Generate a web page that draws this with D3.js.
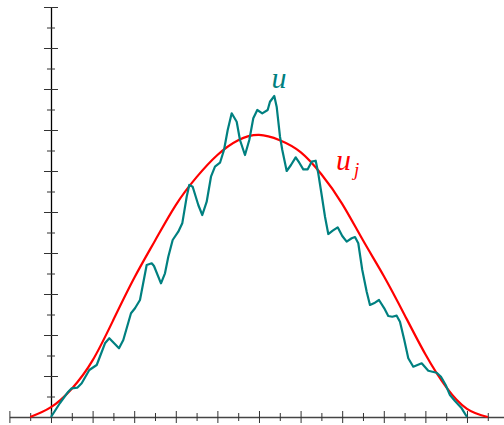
<!DOCTYPE html>
<html>
<head>
<meta charset="utf-8">
<script src="https://cdn.jsdelivr.net/npm/d3@7"></script>
<style>
	body { margin: 0; background: #fff; }
	svg { display: block; }
</style>
</head>
<body>
<script>
// noisy curve u
const uX = [0.000, 0.216, 0.416, 0.498, 0.632, 0.738, 0.921, 1.099, 1.298, 1.401,
	1.635, 1.738, 1.923, 2.019, 2.139, 2.300, 2.421, 2.476, 2.644, 2.740,
	2.820, 2.925, 3.060, 3.156, 3.262, 3.324, 3.406, 3.541, 3.637, 3.743,
	3.846, 3.942, 4.063, 4.159, 4.248, 4.344, 4.464, 4.543, 4.663, 4.767,
	4.863, 4.959, 5.079, 5.209, 5.264, 5.368, 5.425, 5.505, 5.560, 5.666,
	5.769, 5.882, 5.969, 6.065, 6.171, 6.267, 6.363, 6.425, 6.507, 6.587,
	6.666, 6.772, 6.892, 7.002, 7.108, 7.228, 7.308, 7.387, 7.483, 7.589,
	7.668, 7.788, 7.885, 8.012, 8.108, 8.204, 8.310, 8.389, 8.493, 8.589,
	8.709, 8.911, 9.070, 9.272, 9.375, 9.488, 9.591, 9.712, 9.873, 10.000];
const uY = [0.000, 0.341, 0.617, 0.700, 0.715, 0.822, 1.146, 1.268, 1.798, 1.920,
	1.676, 1.878, 2.529, 2.651, 2.854, 3.707, 3.749, 3.683, 3.261, 3.505,
	3.910, 4.317, 4.520, 4.724, 5.373, 5.659, 5.617, 5.171, 4.927, 5.251,
	5.861, 6.105, 6.202, 6.512, 7.000, 7.407, 7.202, 6.756, 6.390, 6.756,
	7.285, 7.488, 7.407, 7.488, 7.690, 7.829, 7.568, 6.837, 6.512, 6.000,
	6.146, 6.334, 6.202, 6.041, 6.041, 6.227, 6.251, 5.944, 5.415, 4.885,
	4.463, 4.544, 4.627, 4.415, 4.276, 4.359, 4.390, 4.237, 3.585, 3.056,
	2.732, 2.788, 2.854, 2.651, 2.463, 2.446, 2.471, 2.324, 1.878, 1.432,
	1.227, 1.310, 1.129, 1.080, 0.983, 0.780, 0.537, 0.390, 0.212, 0.000];

// smooth curve u_j
const ujX = [-0.5, 0, 0.5, 1, 1.5, 2, 2.5, 3, 3.5, 4, 4.5, 5,
	5.5, 6, 6.5, 7, 7.5, 8, 8.5, 9, 9.5, 10, 10.5];
const ujY = [0.00, 0.24, 0.69, 1.38, 2.37, 3.39, 4.30, 5.17, 5.85, 6.39, 6.75, 6.88,
	6.75, 6.46, 5.92, 5.20, 4.31, 3.44, 2.49, 1.53, 0.73, 0.20, 0.00];

const xMajorTicks = [-1, 0, 1, 2, 3, 4, 5, 6, 7, 8, 9, 10];
const xMinorTicks = [-0.5, 0.5, 1.5, 2.5, 3.5, 4.5, 5.5, 6.5, 7.5, 8.5, 9.5, 10.5];
const yMajorTicks = [1, 2, 3, 4, 5, 6, 7, 8, 9, 10];
const yMinorTicks = [0.5, 1.5, 2.5, 3.5, 4.5, 5.5, 6.5, 7.5, 8.5, 9.5];

const width = 504, height = 425;

const svg = d3.select('body').append('svg')
	.attr('width', width)
	.attr('height', height);

const x = d3.scaleLinear().domain([-1, 10.89]).range([9.4, 504]);
const y = d3.scaleLinear().domain([0, 10]).range([417, 7]);

// y axis
const yMajor = svg.append('g')
	.attr('transform', `translate(${x(0)},0)`)
	.call(d3.axisLeft(y).tickValues(yMajorTicks).tickSize(7).tickSizeOuter(0).tickFormat(''));
yMajor.selectAll('.tick line').attr('x1', -7).attr('x2', 7).attr('stroke', '#333');
yMajor.select('.domain').attr('stroke', '#000').attr('stroke-width', 1.3);

const yMinor = svg.append('g')
	.attr('transform', `translate(${x(0)},0)`)
	.call(d3.axisLeft(y).tickValues(yMinorTicks).tickSize(4).tickSizeOuter(0).tickFormat(''));
yMinor.selectAll('.tick line').attr('x1', -4).attr('x2', 4).attr('stroke', '#333');
yMinor.select('.domain').remove();

// x axis
const xMajor = svg.append('g')
	.attr('transform', `translate(0,${y(0)})`)
	.call(d3.axisBottom(x).tickValues(xMajorTicks).tickSize(6).tickSizeOuter(0).tickFormat(''));
xMajor.selectAll('.tick line').attr('y1', -6).attr('y2', 6).attr('stroke', '#333');
xMajor.select('.domain').attr('stroke', '#444').attr('stroke-width', 1.3);

const xMinor = svg.append('g')
	.attr('transform', `translate(0,${y(0)})`)
	.call(d3.axisBottom(x).tickValues(xMinorTicks).tickSize(4).tickSizeOuter(0).tickFormat(''));
xMinor.selectAll('.tick line').attr('y1', -4).attr('y2', 4).attr('stroke', '#333');
xMinor.select('.domain').remove();

// curves
const ujData = ujX.map((d, i) => ({ x: d, y: ujY[i] }));
const uData = uX.map((d, i) => ({ x: d, y: uY[i] }));

svg.append('path')
	.datum(ujData)
	.attr('fill', 'none')
	.attr('stroke', '#ff0000')
	.attr('stroke-width', 2.2)
	.attr('d', d3.line().x(d => x(d.x)).y(d => y(d.y)).curve(d3.curveNatural));

svg.append('path')
	.datum(uData)
	.attr('fill', 'none')
	.attr('stroke', '#008080')
	.attr('stroke-width', 2.2)
	.attr('stroke-linejoin', 'round')
	.attr('d', d3.line().x(d => x(d.x)).y(d => y(d.y)));

// labels
svg.append('text')
	.attr('x', x(5.3))
	.attr('y', y(8.02))
	.attr('fill', '#008080')
	.style('font-family', '"Liberation Serif", "DejaVu Serif", serif')
	.style('font-style', 'italic')
	.style('font-size', '30px')
	.text('u');

const ujLabel = svg.append('text')
	.attr('x', x(6.85))
	.attr('y', y(6.02))
	.attr('fill', '#ff0000')
	.style('font-family', '"Liberation Serif", "DejaVu Serif", serif')
	.style('font-style', 'italic')
	.style('font-size', '30px');
ujLabel.append('tspan').text('u');
ujLabel.append('tspan')
	.attr('dx', 3)
	.attr('dy', 6)
	.style('font-size', '19px')
	.text('j');
</script>
</body>
</html>
